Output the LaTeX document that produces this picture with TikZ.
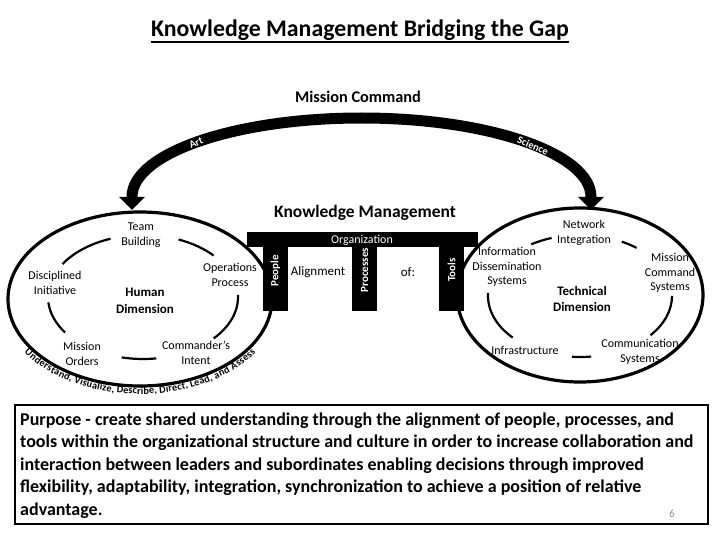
\documentclass[tikz,border=0pt]{standalone}
\usepackage{fontspec}
\setmainfont{Carlito}
\usetikzlibrary{arrows.meta,decorations.text}
\begin{document}
\begin{tikzpicture}[x=1pt,y=-1pt,
  lbl/.style={font=\fontsize{12}{14.5}\selectfont, align=center, inner sep=0pt},
  dimlbl/.style={font=\bfseries\fontsize{13}{16.5}\selectfont, align=center, inner sep=0pt},
  wlbl/.style={text=white, font=\bfseries\fontsize{11}{12}\selectfont, inner sep=0pt},
  arclbl/.style={text=white, font=\bfseries\fontsize{10.5}{11}\selectfont, inner sep=0pt},
  bar/.style={fill=black, draw=none},
  inarc/.style={line width=2.2pt},
  outell/.style={line width=3.2pt},
  ptext/.style={font=\bfseries\fontsize{18}{20}\selectfont, anchor=base west, inner sep=0pt},
  bigarrow/.style={line width=11pt, {Triangle[width=25pt,length=13pt]}-{Triangle[width=25pt,length=13pt]}}
]
\useasboundingbox (0,0) rectangle (720,540);

% title
\node[font=\bfseries\fontsize{23.8}{27}\selectfont, inner sep=0pt, anchor=base] (title) at (360,37) {Knowledge Management Bridging the Gap};
\draw[line width=2pt] ([yshift=-5.5pt]title.base west) -- ([yshift=-5.5pt]title.base east);

\node[font=\bfseries\fontsize{16.3}{18}\selectfont, inner sep=0pt, anchor=base] (mc) at (358,103) {Mission Command};

% big arc
\coordinate (lt) at (132,210);
\coordinate (rt) at (591,210);
\draw[bigarrow] (lt) -- (132,197) arc[start angle=180, end angle=360, x radius=229.5, y radius=79] -- (rt);
\node[arclbl, rotate=24] (art) at (196,143) {Art};
\node[arclbl, rotate=-23] (sci) at (533,146) {Science};

% left ellipse
\draw[outell] (140,299) ellipse [x radius=132, y radius=87];
\path[decorate, decoration={text along path, text={|\bfseries\fontsize{10.2}{10}\selectfont|Understand, Visualize, Describe, Direct, Lead, and Assess}, text align=center, raise=-8pt}]
  ([shift={(158:132 and 87)}]140,299) arc[start angle=158, end angle=22, x radius=132, y radius=87];

\draw[inarc] ([shift={(212:95 and 62)}]143,297) arc[start angle=212, end angle=250, x radius=95, y radius=62];
\draw[inarc] ([shift={(292:95 and 62)}]143,297) arc[start angle=292, end angle=318, x radius=95, y radius=62];
\draw[inarc] ([shift={(-2:95 and 62)}]143,297) arc[start angle=-2, end angle=42, x radius=95, y radius=62];
\draw[inarc] ([shift={(82:95 and 62)}]143,297) arc[start angle=82, end angle=103, x radius=95, y radius=62];
\draw[inarc] ([shift={(145:95 and 62)}]143,297) arc[start angle=145, end angle=175, x radius=95, y radius=62];

\node[lbl] (tb) at (141,235) {Team\\Building};
\node[lbl] (di) at (55,283) {Disciplined\\Initiative};
\node[lbl] (op) at (230,275) {Operations\\Process};
\node[dimlbl] (hd) at (145,301) {Human\\Dimension};
\node[lbl] (mo) at (82,354) {Mission\\Orders};
\node[lbl] (ci) at (196,353) {Commander's\\Intent};

% right ellipse
\draw[outell] (580,295) ellipse [x radius=123, y radius=87];
\draw[inarc] ([shift={(238:92 and 61)}]580,296) arc[start angle=238, end angle=252, x radius=92, y radius=61];
\draw[inarc] ([shift={(297:92 and 61)}]580,296) arc[start angle=297, end angle=308, x radius=92, y radius=61];
\draw[inarc] ([shift={(0:92 and 61)}]580,296) arc[start angle=0, end angle=40, x radius=92, y radius=61];
\draw[inarc] ([shift={(83:92 and 61)}]580,296) arc[start angle=83, end angle=95, x radius=92, y radius=61];
\draw[inarc] ([shift={(137:92 and 61)}]580,296) arc[start angle=137, end angle=183, x radius=92, y radius=61];

\node[lbl] (ni) at (584,233) {Network\\Integration};
\node[lbl] (ids) at (507,267) {Information\\Dissemination\\Systems};
\node[lbl] (mcs) at (670,273) {Mission\\Command\\Systems};
\node[dimlbl] (td) at (582,299) {Technical\\Dimension};
\node[lbl] (inf) at (525,350) {Infrastructure};
\node[lbl] (cs) at (640,352) {Communication\\Systems};

% knowledge management structure
\node[font=\bfseries\fontsize{17.5}{20}\selectfont, inner sep=0pt] (km) at (365,213) {Knowledge Management};
\fill[bar] (247,232) rectangle (478,247);
\fill[bar] (263,232) rectangle (288,311);
\fill[bar] (352,232) rectangle (377,311);
\fill[bar] (439,232) rectangle (464,311);
\node[text=white, font=\fontsize{12}{12}\selectfont, inner sep=0pt] (org) at (362,240) {Organization};
\node[wlbl, rotate=90] (ppl) at (275.5,271) {People};
\node[wlbl, rotate=90] (proc) at (364.5,270) {Processes};
\node[wlbl, rotate=90] (tools) at (451.5,270) {Tools};
\node[lbl, font=\fontsize{13}{14}\selectfont] (al) at (318,272) {Alignment};
\node[lbl, font=\fontsize{13}{14}\selectfont] (of) at (408,272) {of:};

% purpose box
\draw[line width=2.5pt] (15,405) rectangle (708,524);
\node[ptext] (p1) at (20,425) {Purpose - create shared understanding through the alignment of people, processes, and};
\node[ptext] (p2) at (20,447.5) {tools within the organizational structure and culture in order to increase collaboration and};
\node[ptext] (p3) at (20,470) {interaction between leaders and subordinates enabling decisions through improved};
\node[ptext] (p4) at (20,492.5) {flexibility, adaptability, integration, synchronization to achieve a position of relative};
\node[ptext] (p5) at (20,515) {advantage.};
\node[text=black!45, font=\fontsize{11}{12}\selectfont, inner sep=0pt] (pg) at (672,514) {6};
\end{tikzpicture}
\end{document}
